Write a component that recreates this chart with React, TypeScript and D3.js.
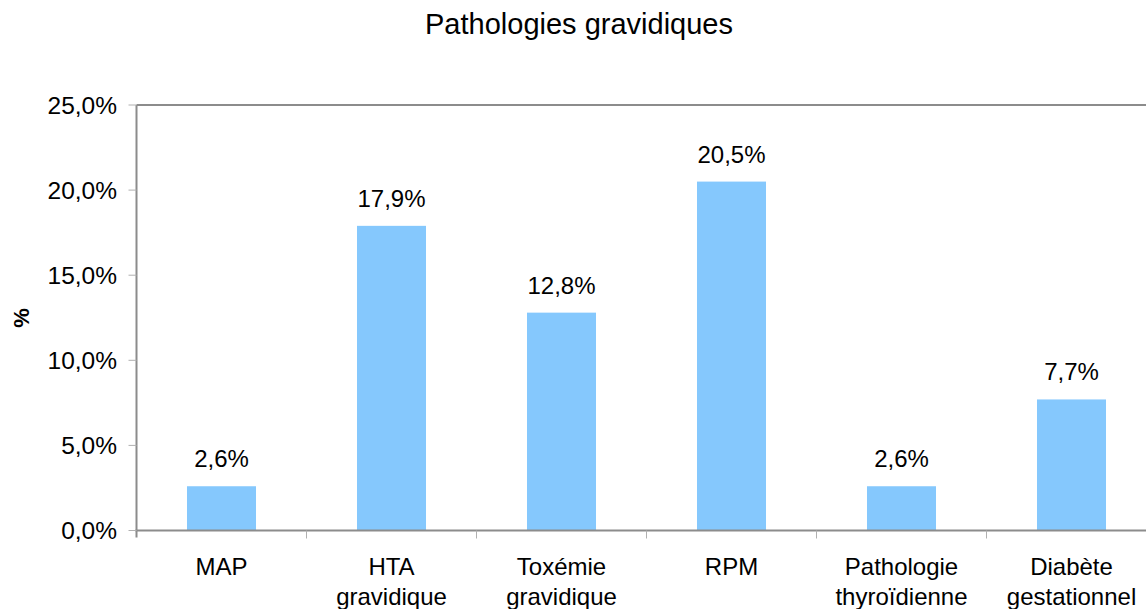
import { scaleBand, scaleLinear } from 'd3'

const categories = ['MAP', 'HTA gravidique', 'Toxémie gravidique', 'RPM', 'Pathologie thyroïdienne', 'Diabète gestationnel']
const categoryLines = [
  ['MAP'],
  ['HTA', 'gravidique'],
  ['Toxémie', 'gravidique'],
  ['RPM'],
  ['Pathologie', 'thyroïdienne'],
  ['Diabète', 'gestationnel'],
]
const percentages = [2.6, 17.9, 12.8, 20.5, 2.6, 7.7]
const yTicks = [0, 5, 10, 15, 20, 25]

const formatPercent = (value: number) => `${value.toFixed(1).replace('.', ',')}%`

export default function App() {
  const width = 1146
  const height = 609
  const left = 136.5
  const right = 1156.5
  const top = 105
  const bottom = 530.5
  const font = '"Liberation Sans", Arial, sans-serif'
  const axisColor = '#8c8c8c'

  const xScale = scaleBand<string>()
    .domain(categories)
    .range([left, right])
    .paddingInner(0.594)
    .paddingOuter(0.297)
  const step = xScale.step()
  const yScale = scaleLinear().domain([0, 25]).range([bottom, top])

  return (
    <svg
      width={width}
      height={height}
      style={{ position: 'absolute', left: 0, top: 0, background: '#fff' }}
      fontFamily={font}
    >
      <text x={579} y={34} textAnchor="middle" fontSize={29} fill="#000">
        Pathologies gravidiques
      </text>

      <text
        transform={`translate(29, 318) rotate(-90)`}
        textAnchor="middle"
        fontSize={22}
        fontWeight="bold"
        fill="#000"
      >
        %
      </text>

      {percentages.map((value, index) => {
        const category = categories[index]
        const x = xScale(category) ?? 0
        const y = yScale(value)
        return (
          <g key={category}>
            <rect x={x} y={y} width={xScale.bandwidth()} height={bottom - y} fill="#85c8fd" />
            <text x={x + xScale.bandwidth() / 2} y={y - 19} textAnchor="middle" fontSize={24} fill="#000">
              {formatPercent(value)}
            </text>
          </g>
        )
      })}

      {/* plot frame: left, top, bottom */}
      <line x1={left} x2={right} y1={top} y2={top} stroke={axisColor} strokeWidth={2} />
      <line x1={left} x2={left} y1={top} y2={bottom + 7} stroke={axisColor} strokeWidth={2} />
      <line x1={left - 1} x2={right} y1={bottom} y2={bottom} stroke={axisColor} strokeWidth={2} />

      {yTicks.map((tick) => (
        <g key={tick}>
          <line x1={left - 8} x2={left} y1={yScale(tick)} y2={yScale(tick)} stroke="#b0b0b0" strokeWidth={1} />
          <text x={117} y={yScale(tick)} dy="0.35em" textAnchor="end" fontSize={24.5} fill="#000">
            {formatPercent(tick)}
          </text>
        </g>
      ))}

      {categories.map((category, index) => {
        const x0 = left + step * index
        const center = (xScale(category) ?? 0) + xScale.bandwidth() / 2
        return (
          <g key={category}>
            {index > 0 && (
              <line x1={x0} x2={x0} y1={bottom} y2={bottom + 8} stroke="#b0b0b0" strokeWidth={1} />
            )}
            {categoryLines[index].map((line, lineIndex) => (
              <text key={line} x={center} y={575 + lineIndex * 30} textAnchor="middle" fontSize={24} fill="#000">
                {line}
              </text>
            ))}
          </g>
        )
      })}
    </svg>
  )
}
